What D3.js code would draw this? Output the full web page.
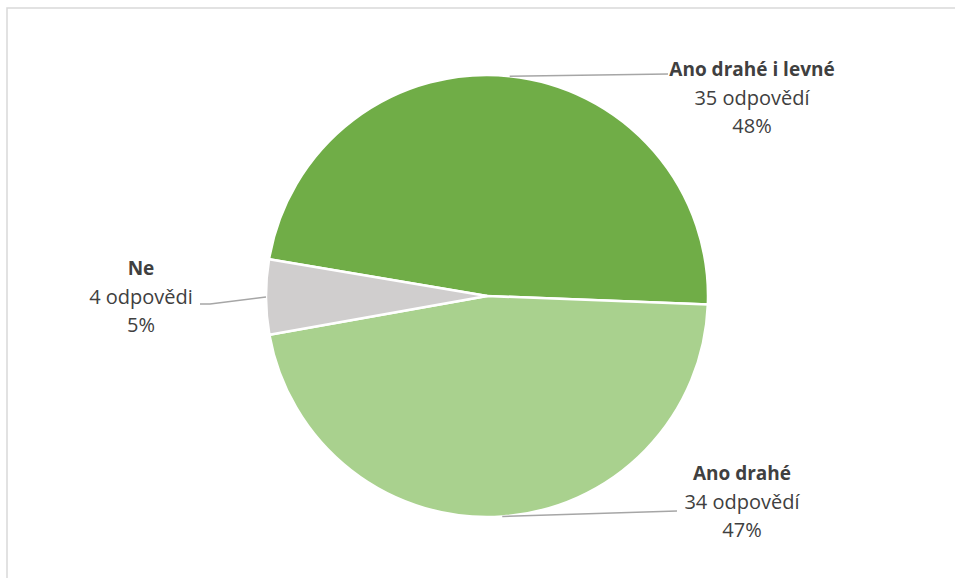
<!DOCTYPE html>
<html>
<head>
<meta charset="utf-8">
<script src="https://cdn.jsdelivr.net/npm/d3@7"></script>
<style>
  html, body { margin: 0; padding: 0; background: #fff; }
  svg { display: block; }
  text { font-family: "Open Sans", sans-serif; fill: #404040; }
</style>
</head>
<body>
<svg id="chart" width="955" height="578"></svg>
<script>
// Survey answers
const categories = ["Ano drahé i levné", "Ano drahé", "Ne"];
const counts = [35, 34, 4];
const countLabels = ["35 odpovědí", "34 odpovědí", "4 odpovědi"];
const percentLabels = ["48%", "47%", "5%"];
const colors = ["#70AD47", "#A9D18E", "#D0CECE"];

const W = 955, H = 578;
const cx = 487, cy = 296, R = 221;
const startDeg = -80.4;

const svg = d3.select("#chart");

// chart frame
svg.append("rect")
  .attr("x", 7).attr("y", 8)
  .attr("width", W).attr("height", H)
  .attr("fill", "none")
  .attr("stroke", "#D9D9D9")
  .attr("stroke-width", 1.5);

const data = categories.map((c, i) => ({
  name: c, value: counts[i], count: countLabels[i], pct: percentLabels[i], color: colors[i]
}));

const pie = d3.pie()
  .value(d => d.value)
  .sort(null)
  .startAngle(startDeg * Math.PI / 180)
  .endAngle((startDeg + 360) * Math.PI / 180);

const arcs = pie(data);
const arc = d3.arc().innerRadius(0).outerRadius(R);

const g = svg.append("g").attr("transform", `translate(${cx},${cy})`);

g.selectAll("path.slice")
  .data(arcs)
  .join("path")
  .attr("class", "slice")
  .attr("d", arc)
  .attr("fill", d => d.data.color)
  .attr("stroke", "#fff")
  .attr("stroke-width", 2.5)
  .attr("stroke-linejoin", "round");

// label blocks: anchor of the text block (center x, first baseline) and the leader end
const labelLayout = [
  { tx: 752, ty: 76, lx: 668, ly: 74, bend: null },
  { tx: 742, ty: 480, lx: 677, ly: 511, bend: null },
  { tx: 141, ty: 275, lx: 200, ly: 304, bend: 210 }
];
const lineGap = 28.5;

const labels = svg.append("g");
arcs.forEach((a, i) => {
  const mid = (a.startAngle + a.endAngle) / 2;
  const px = cx + R * Math.sin(mid);
  const py = cy - R * Math.cos(mid);
  const L = labelLayout[i];
  const pts = [[px, py]];
  if (L.bend !== null) pts.push([L.bend, L.ly]);
  pts.push([L.lx, L.ly]);
  labels.append("path")
    .attr("d", d3.line()(pts))
    .attr("fill", "none")
    .attr("stroke", "#A6A6A6")
    .attr("stroke-width", 1.5);

  const t = labels.append("text")
    .attr("text-anchor", "middle")
    .attr("font-size", 20);
  t.append("tspan").attr("x", L.tx).attr("y", L.ty)
    .attr("font-weight", "bold").attr("font-size", 19).text(a.data.name);
  t.append("tspan").attr("x", L.tx).attr("y", L.ty + lineGap).text(a.data.count);
  t.append("tspan").attr("x", L.tx).attr("y", L.ty + 2 * lineGap).text(a.data.pct);
});
</script>
</body>
</html>
